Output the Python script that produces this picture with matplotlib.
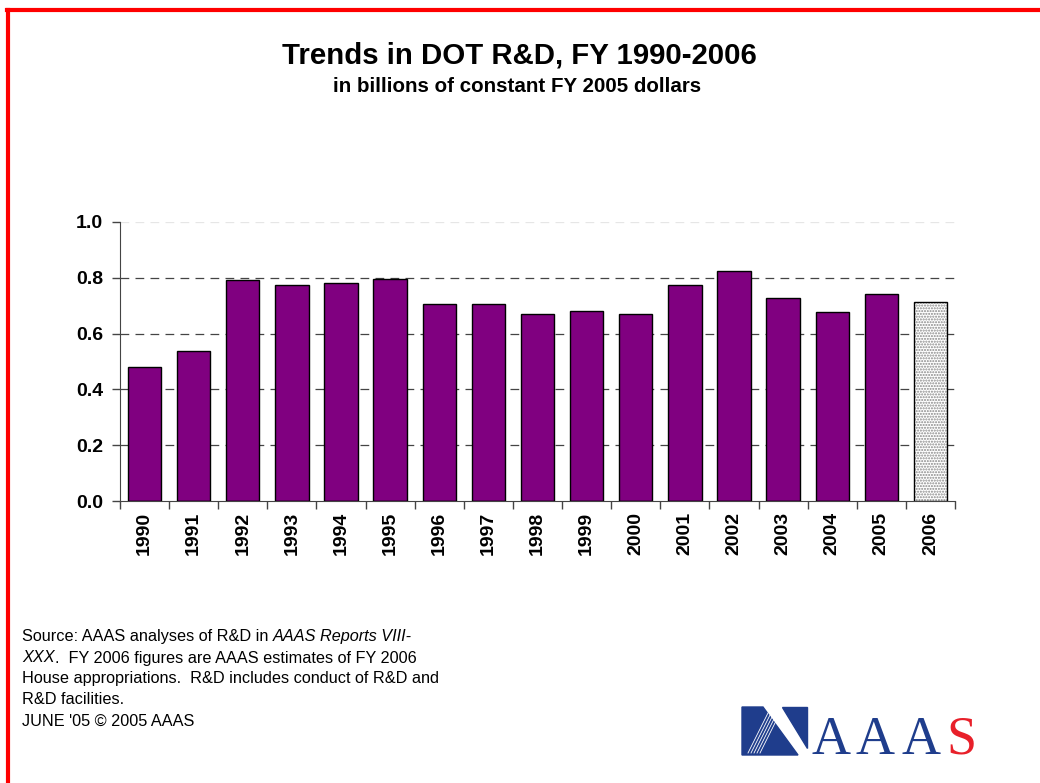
import matplotlib
matplotlib.use("Agg")
import matplotlib.pyplot as plt
import numpy as np
from matplotlib.patches import Polygon
from matplotlib.lines import Line2D

plt.rcParams['font.family'] = ['Liberation Sans', 'DejaVu Sans']

years = ["1990", "1991", "1992", "1993", "1994", "1995", "1996", "1997", "1998",
         "1999", "2000", "2001", "2002", "2003", "2004", "2005", "2006"]
values = [0.480, 0.538, 0.792, 0.774, 0.781, 0.796, 0.706, 0.706, 0.670,
          0.681, 0.670, 0.774, 0.824, 0.728, 0.677, 0.742, 0.713]
estimate = ["2006"]

W, H = 1040, 783
fig = plt.figure(figsize=(W / 100, H / 100), dpi=100)

# red slide border (top and left)
fig.add_artist(Line2D([8 / W, 8 / W], [0, 1 - 10 / H], color="#ff0000", lw=3, transform=fig.transFigure))
fig.add_artist(Line2D([7 / W, 1], [1 - 10 / H, 1 - 10 / H], color="#ff0000", lw=3, transform=fig.transFigure))

ax = fig.add_axes([120 / W, (H - 501) / H, 835 / W, 279 / H])
x = np.arange(len(years))
actual = [v if y not in estimate else 0 for y, v in zip(years, values)]
est = [v if y in estimate else 0 for y, v in zip(years, values)]

ax.bar(x, actual, width=0.68, color="#800080", edgecolor="black", linewidth=1, zorder=3)
ax.bar(x, est, width=0.68, color="white", edgecolor="#888888", hatch="......", linewidth=0, zorder=3)
ax.bar(x, est, width=0.68, fill=False, edgecolor="black", linewidth=1, zorder=4)

ax.set_xlim(-0.5, len(years) - 0.5)
ax.set_ylim(0, 1.0)
ax.set_yticks([0.0, 0.2, 0.4, 0.6, 0.8, 1.0])
ax.set_yticklabels(["0.0", "0.2", "0.4", "0.6", "0.8", "1.0"], fontsize=14, fontweight="bold")
for yv in [0.2, 0.4, 0.6, 0.8]:
    ax.axhline(yv, color="#444444", lw=0.9, ls=(0, (7, 5)), zorder=1)
ax.axhline(1.0, color="#e6e6e6", lw=0.9, ls=(0, (7, 5)), zorder=1)

ax.set_xticks(x)
ax.set_xticklabels(years, rotation=90, fontsize=14, fontweight="bold")
ax.set_xticks(np.arange(-0.5, len(years)), minor=True)
ax.tick_params(axis="x", which="major", length=0, pad=8)
ax.tick_params(axis="x", which="minor", length=6, width=1, direction="out", color="#444444")
ax.tick_params(axis="y", length=6, width=1, direction="out", color="#444444", pad=6)
for s in ["top", "right"]:
    ax.spines[s].set_visible(False)
ax.spines["left"].set_color("#444444")
ax.spines["bottom"].set_color("#444444")

fig.text(519 / W, 1 - 56 / H, "Trends in DOT R&D, FY 1990-2006", ha="center", va="center",
         fontsize=21.2, fontweight="bold")
fig.text(517 / W, 1 - 86 / H, "in billions of constant FY 2005 dollars", ha="center", va="center",
         fontsize=14.8, fontweight="bold")

# source note, mixed roman / italic runs placed one after another
fs = 11.7
lh = 21 / H
y0 = 1 - 637 / H
lines = [
    [("Source: AAAS analyses of R&D in ", "normal"), ("AAAS Reports VIII-", "italic")],
    [("XXX", "italic"), (".  FY 2006 figures are AAAS estimates of FY 2006", "normal")],
    [("House appropriations.  R&D includes conduct of R&D and", "normal")],
    [("R&D facilities.", "normal")],
    [("JUNE '05 \u00a9 2005 AAAS", "normal")],
]
renderer = fig.canvas.get_renderer()
for i, runs in enumerate(lines):
    xpos = 22 / W
    for txt, st in runs:
        t = fig.text(xpos, y0 - i * lh, txt, fontsize=fs, style=st, va="center")
        bb = t.get_window_extent(renderer)
        xpos += bb.width / W

# AAAS logo
def px(xp, yp):
    return (xp / W, 1 - yp / H)

blue = "#1f3d8c"
fig.add_artist(Polygon([px(742, 707), px(763, 707), px(798, 755), px(742, 755)],
                       color=blue, transform=fig.transFigure))
fig.add_artist(Polygon([px(782, 707), px(807, 707), px(807, 748)],
                       color=blue, transform=fig.transFigure))
for i in range(5):
    fig.add_artist(Line2D([(748 + i * 3) / W, (768 + i * 3) / W], [1 - 753 / H, 1 - 713 / H],
                          color="white", lw=0.6, transform=fig.transFigure))
letters = ["A", "A", "A", "S"]
colors = [blue, blue, blue, "#e8202a"]
lx = 811
for ch, c in zip(letters, colors):
    t = fig.text(lx / W, 1 - 754 / H, ch, fontsize=39, color=c, family="Liberation Serif",
                 va="baseline")
    lx += t.get_window_extent(renderer).width + 6

fig.savefig("out.png", dpi=100)
